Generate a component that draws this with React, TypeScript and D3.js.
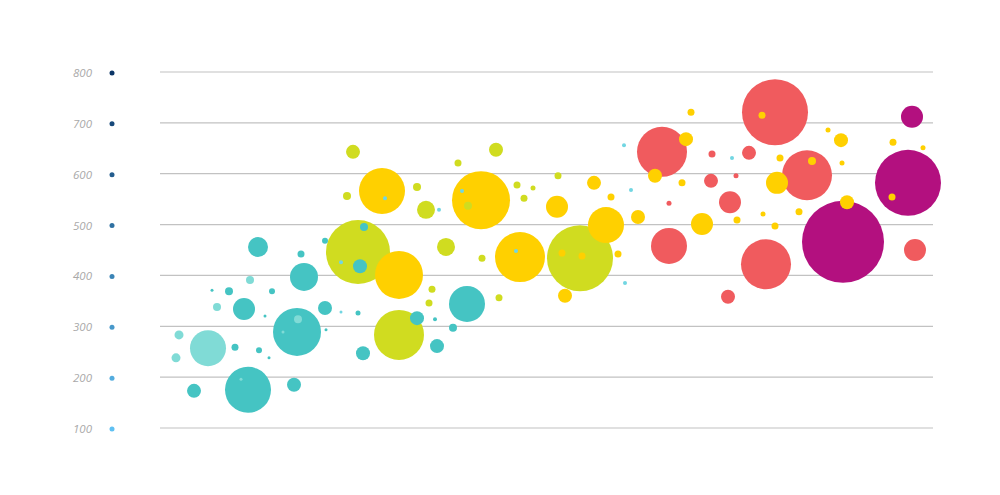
import React from "react";
import * as d3 from "d3";

// y tick labels
const yTicks = [100, 200, 300, 400, 500, 600, 700, 800];

// each point: [x, y, size]
const teal: [number, number, number][] = [
  [88, 175, 23], [34, 173, 7], [84, 334, 11], [98, 456, 10], [137, 289, 24],
  [144, 397, 14], [134, 185, 7], [69, 369, 4], [112, 369, 3], [75, 259, 3.5],
  [99, 253, 3], [141, 442, 3.5], [165, 336, 7], [165, 468, 3], [200, 418, 7],
  [204, 495, 4], [198, 326, 2.5], [307, 344, 18], [257, 316, 7], [277, 261, 7],
  [203, 247, 7], [293, 297, 4], [275, 314, 2], [52, 371, 1.5], [109, 238, 1.5],
  [166, 293, 1.5], [105, 320, 1.5],
];
const lightTeal: [number, number, number][] = [
  [48, 257, 18], [19, 283, 4.5], [16, 238, 4.5], [57, 338, 4], [90, 391, 4],
  [138, 314, 4], [123, 289, 1.5], [81, 196, 1.5],
];
const lightBlue: [number, number, number][] = [
  [464, 656, 2], [471, 568, 2], [465, 385, 2], [356, 448, 2], [302, 566, 2],
  [225, 552, 2], [279, 529, 2], [572, 631, 2], [181, 426, 2], [181, 328, 1.5],
];
const lime: [number, number, number][] = [
  [198, 446, 32], [239, 283, 25], [193, 643, 7], [187, 556, 4], [266, 529, 9],
  [257, 574, 4], [286, 456, 9], [298, 621, 3.5], [336, 647, 7], [272, 373, 3.5],
  [269, 346, 3.5], [322, 434, 3.5], [339, 356, 3.5], [357, 578, 3.5], [364, 552, 3.5],
  [373, 572, 2.5], [308, 537, 4], [420, 434, 33], [398, 596, 3.5],
];
const yellow: [number, number, number][] = [
  [222, 566, 23], [239, 401, 24], [321, 548, 29], [360, 436, 25], [397, 535, 11],
  [434, 582, 7], [451, 554, 3.5], [446, 499, 18], [478, 515, 7], [405, 360, 7],
  [458, 442, 3.5], [402, 444, 3.5], [422, 438, 3.5], [495, 596, 7], [526, 668, 7],
  [522, 582, 3.5], [531, 721, 3.5], [542, 501, 11], [577, 509, 3.5], [603, 521, 2.5],
  [615, 497, 3.5], [617, 582, 11], [602, 715, 3.5], [620, 631, 3.5], [639, 525, 3.5],
  [652, 625, 4], [668, 686, 2.5], [681, 666, 7], [682, 621, 2.5], [687, 544, 7],
  [733, 662, 3.5], [763, 651, 2.5], [732, 554, 3.5],
];
const red: [number, number, number][] = [
  [502, 643, 25], [509, 458, 18], [615, 721, 33], [647, 597, 25], [606, 422, 25],
  [570, 544, 11], [551, 586, 7], [589, 641, 7], [552, 639, 3.5], [576, 596, 2.5],
  [509, 542, 2.5], [568, 358, 7], [755, 450, 11],
];
const magenta: [number, number, number][] = [
  [683, 466, 41], [748, 582, 33], [752, 712, 11],
];

const seriesList = [
  { name: "teal", color: "#45c4c3", data: teal },
  { name: "lightTeal", color: "#80dbd6", data: lightTeal },
  { name: "lightBlue", color: "#72d6e2", data: lightBlue },
  { name: "lime", color: "#d0dc20", data: lime },
  { name: "yellow", color: "#ffd000", data: yellow },
  { name: "red", color: "#f05b5e", data: red },
  { name: "magenta", color: "#b3107f", data: magenta },
];

export default function App() {
  const W = 1000;
  const H = 495;
  const x = d3.scaleLinear().domain([0, 773]).range([160, 933]);
  const y = d3.scaleLinear().domain([100, 800]).range([428, 72]);
  const r = d3.scaleLinear().domain([0, 41]).range([0, 41]);
  const dotColor = d3
    .scaleLinear<string>()
    .domain([100, 800])
    .range(["#5fc0f2", "#0b3566"])
    .interpolate(d3.interpolateRgb);

  const points = seriesList
    .flatMap((s) => s.data.map((d) => ({ x: d[0], y: d[1], s: d[2], color: s.color })))
    .sort((a, b) => b.s - a.s);

  return (
    <svg
      width={W}
      height={H}
      style={{ position: "absolute", left: 0, top: 0, background: "#fff" }}
    >
      <rect width={W} height={H} fill="#fff" />
      {yTicks.map((t) => (
        <g key={t}>
          <line x1={160} x2={933} y1={y(t)} y2={y(t)} stroke="#c2c2c2" strokeWidth={1.2} />
          <text
            x={92}
            y={y(t) + 1}
            dy="0.35em"
            textAnchor="end"
            fontFamily="'Open Sans', Roboto, sans-serif"
            fontStyle="italic"
            fontWeight={400}
            fontSize={11.5}
            fill="#a9a9a9"
          >
            {t}
          </text>
          <circle cx={112} cy={y(t) + 1} r={2.5} fill={dotColor(t)} />
        </g>
      ))}
      {points.map((p, i) => (
        <circle key={i} cx={x(p.x)} cy={y(p.y)} r={r(p.s)} fill={p.color} />
      ))}
    </svg>
  );
}
